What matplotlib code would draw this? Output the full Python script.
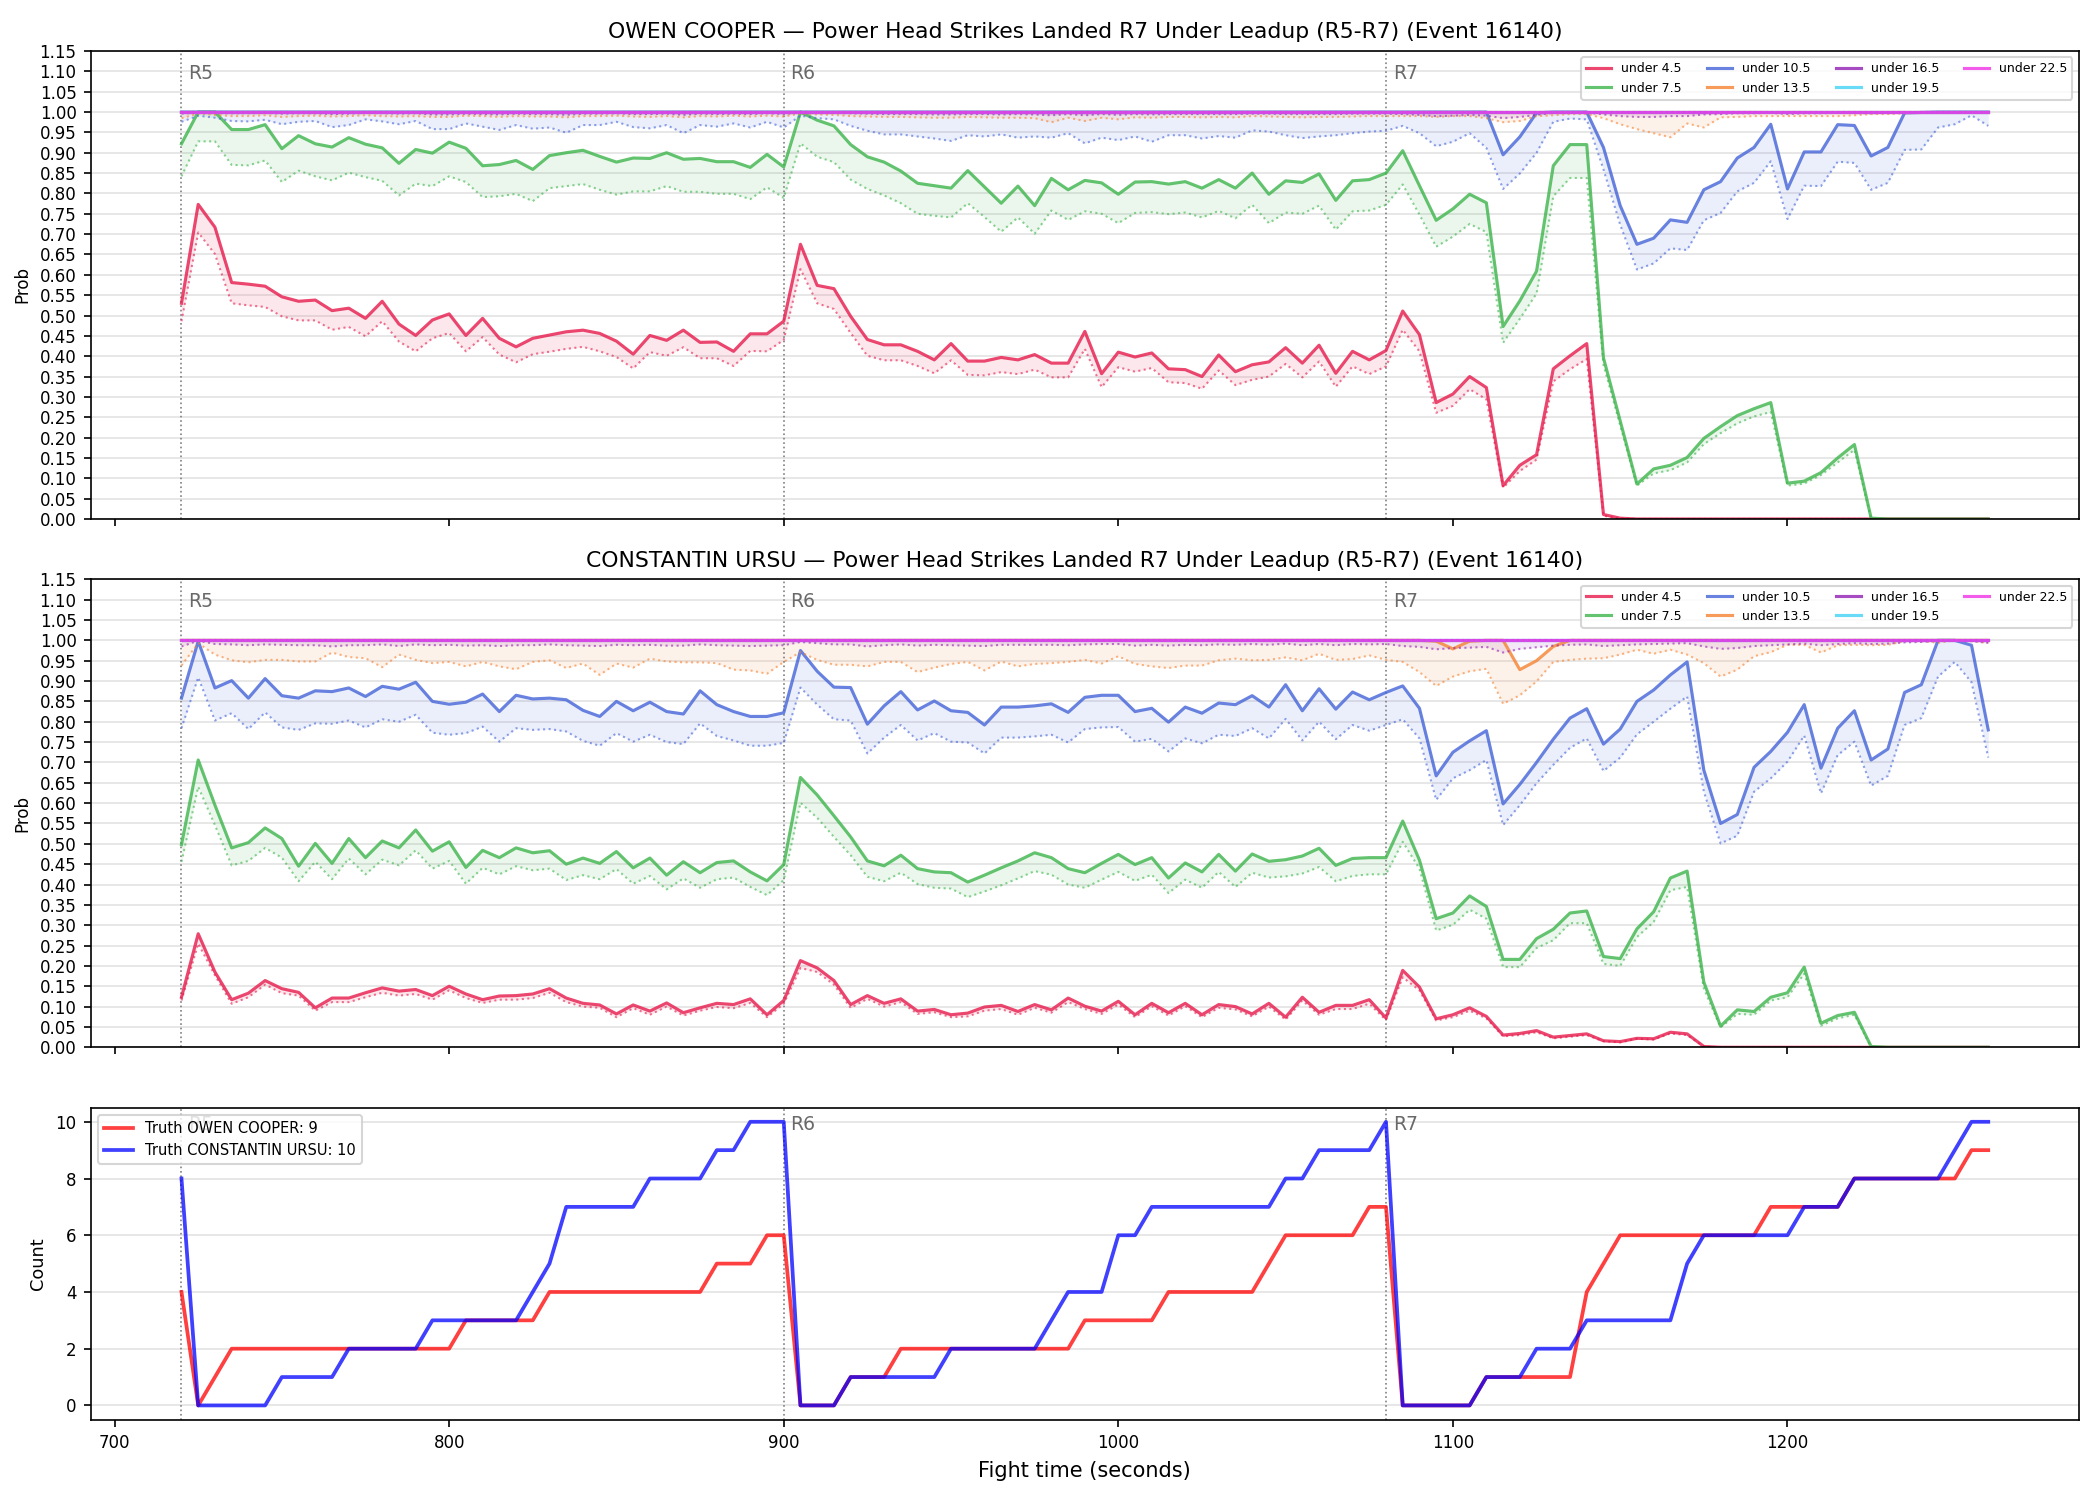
import numpy as np
import matplotlib.pyplot as plt

# fight time, one sample every 5 s over rounds 5-7
t = np.arange(720, 1261, 5)
round_starts = [720, 900, 1080]
round_names = ["R5", "R6", "R7"]

lines = ["under 4.5", "under 7.5", "under 10.5", "under 13.5",
         "under 16.5", "under 19.5", "under 22.5"]
colors = ["#e6194b", "#3cb44b", "#4363d8", "#f58231",
          "#911eb4", "#42d4f4", "#f032e6"]

ones = [1.0] * 109  # lines sitting on 1.00 for the whole window

# ---- OWEN COOPER (solid = model, dotted = lower band) ----
o_u45 = [0.530, 0.773, 0.717, 0.581, 0.577, 0.572, 0.546, 0.535, 0.538, 0.512, 0.518, 0.493, 0.535, 0.479, 0.451, 0.489, 0.504, 0.451, 0.493, 0.444, 0.423, 0.444, 0.452, 0.460, 0.464, 0.456, 0.437, 0.405, 0.451, 0.439, 0.464, 0.434, 0.435, 0.412, 0.455, 0.455, 0.486,
         0.675, 0.574, 0.566, 0.498, 0.441, 0.428, 0.428, 0.412, 0.391, 0.431, 0.388, 0.388, 0.397, 0.391, 0.404, 0.383, 0.383, 0.461, 0.357, 0.410, 0.398, 0.408, 0.369, 0.367, 0.350, 0.403, 0.362, 0.379, 0.386, 0.421, 0.383, 0.427, 0.358, 0.412, 0.391, 0.414,
         0.511, 0.453, 0.286, 0.307, 0.350, 0.323, 0.082, 0.132, 0.158, 0.369, 0.401, 0.431, 0.011, 0.002] + [0.0] * 22
o_u45_lo = [0.486, 0.704, 0.651, 0.530, 0.525, 0.521, 0.498, 0.488, 0.488, 0.465, 0.472, 0.449, 0.486, 0.436, 0.412, 0.444, 0.457, 0.412, 0.447, 0.404, 0.385, 0.405, 0.411, 0.418, 0.423, 0.412, 0.398, 0.370, 0.410, 0.401, 0.422, 0.395, 0.395, 0.376, 0.413, 0.412, 0.440,
            0.614, 0.530, 0.516, 0.457, 0.401, 0.390, 0.390, 0.376, 0.358, 0.390, 0.354, 0.353, 0.361, 0.356, 0.367, 0.348, 0.348, 0.418, 0.324, 0.373, 0.362, 0.371, 0.336, 0.334, 0.320, 0.365, 0.329, 0.342, 0.350, 0.381, 0.348, 0.387, 0.325, 0.375, 0.356, 0.375,
            0.465, 0.412, 0.261, 0.278, 0.319, 0.294, 0.077, 0.118, 0.146, 0.338, 0.368, 0.393, 0.008, 0.001] + [0.0] * 22
o_u75 = [0.922, 1.0, 1.0, 0.957, 0.957, 0.969, 0.910, 0.942, 0.922, 0.914, 0.937, 0.921, 0.912, 0.874, 0.908, 0.899, 0.926, 0.911, 0.868, 0.871, 0.881, 0.859, 0.893, 0.900, 0.906, 0.891, 0.877, 0.887, 0.886, 0.900, 0.884, 0.886, 0.878, 0.878, 0.864, 0.896, 0.865,
         1.0, 0.980, 0.966, 0.920, 0.890, 0.877, 0.855, 0.825, 0.819, 0.813, 0.856, 0.816, 0.776, 0.818, 0.770, 0.837, 0.809, 0.832, 0.826, 0.798, 0.828, 0.829, 0.823, 0.829, 0.813, 0.834, 0.813, 0.850, 0.798, 0.831, 0.827, 0.848, 0.783, 0.831, 0.834, 0.850,
         0.905, 0.819, 0.734, 0.762, 0.798, 0.777, 0.473, 0.536, 0.609, 0.868, 0.920, 0.920, 0.396, 0.241, 0.086, 0.123, 0.132, 0.151, 0.198, 0.227, 0.254, 0.271, 0.286, 0.088, 0.093, 0.114, 0.150, 0.183, 0.002] + [0.0] * 7
o_u75_lo = [0.842, 0.928, 0.928, 0.870, 0.869, 0.881, 0.828, 0.856, 0.842, 0.832, 0.851, 0.840, 0.831, 0.795, 0.824, 0.818, 0.842, 0.828, 0.791, 0.793, 0.799, 0.781, 0.813, 0.818, 0.823, 0.809, 0.797, 0.805, 0.805, 0.818, 0.804, 0.804, 0.799, 0.799, 0.786, 0.815, 0.789,
            0.923, 0.890, 0.877, 0.834, 0.811, 0.795, 0.776, 0.750, 0.745, 0.741, 0.776, 0.742, 0.706, 0.741, 0.701, 0.758, 0.735, 0.756, 0.750, 0.727, 0.752, 0.754, 0.749, 0.753, 0.741, 0.757, 0.739, 0.772, 0.727, 0.753, 0.750, 0.770, 0.711, 0.756, 0.758, 0.772,
            0.822, 0.748, 0.669, 0.694, 0.725, 0.705, 0.433, 0.492, 0.554, 0.793, 0.838, 0.838, 0.379, 0.230, 0.082, 0.112, 0.120, 0.139, 0.184, 0.211, 0.235, 0.252, 0.263, 0.082, 0.087, 0.108, 0.139, 0.170, 0.0] + [0.0] * 7
o_u105 = [1.0] * 79 + [0.895, 0.939, 0.998, 1.0, 1.0, 1.0, 0.913, 0.770, 0.675, 0.690, 0.735, 0.729, 0.809, 0.829, 0.887, 0.913, 0.970, 0.811, 0.902, 0.902, 0.969, 0.967, 0.892, 0.913, 0.998, 0.999, 1.0, 1.0, 1.0, 1.0]
o_u105_lo = [0.976, 0.991, 0.986, 0.978, 0.977, 0.981, 0.970, 0.976, 0.978, 0.963, 0.968, 0.982, 0.977, 0.970, 0.978, 0.958, 0.958, 0.972, 0.964, 0.956, 0.968, 0.959, 0.962, 0.949, 0.968, 0.968, 0.976, 0.963, 0.960, 0.968, 0.948, 0.968, 0.964, 0.972, 0.962, 0.976, 0.962,
             0.991, 0.985, 0.982, 0.966, 0.954, 0.945, 0.945, 0.940, 0.935, 0.929, 0.943, 0.940, 0.945, 0.937, 0.940, 0.937, 0.948, 0.923, 0.937, 0.931, 0.940, 0.927, 0.943, 0.943, 0.935, 0.941, 0.937, 0.955, 0.952, 0.943, 0.936, 0.940, 0.943, 0.948, 0.952, 0.954,
             0.966, 0.948, 0.916, 0.927, 0.948, 0.912, 0.811, 0.849, 0.900, 0.976, 0.984, 0.982, 0.859, 0.723, 0.613, 0.628, 0.665, 0.661, 0.734, 0.752, 0.805, 0.826, 0.879, 0.737, 0.819, 0.818, 0.878, 0.875, 0.809, 0.826, 0.907, 0.908, 0.962, 0.970, 0.992, 0.966]
o_u135_lo = [0.985, 0.996, 0.993, 0.990, 0.990, 0.992, 0.988, 0.990, 0.991, 0.989, 0.990, 0.992, 0.990, 0.989, 0.990, 0.988, 0.988, 0.991, 0.990, 0.988, 0.990, 0.989, 0.989, 0.987, 0.990, 0.990, 0.991, 0.989, 0.988, 0.990, 0.987, 0.990, 0.989, 0.991, 0.989, 0.991, 0.989,
             0.996, 0.994, 0.993, 0.990, 0.989, 0.988, 0.988, 0.987, 0.986, 0.986, 0.988, 0.987, 0.986, 0.986, 0.985, 0.975, 0.986, 0.978, 0.986, 0.982, 0.987, 0.986, 0.988, 0.988, 0.987, 0.988, 0.987, 0.990, 0.989, 0.988, 0.987, 0.988, 0.988, 0.989, 0.990, 0.990,
             0.990, 0.990, 0.988, 0.990, 0.990, 0.985, 0.975, 0.978, 0.990, 0.992, 0.995, 0.995, 0.985, 0.970, 0.958, 0.948, 0.938, 0.972, 0.962, 0.987, 0.988, 0.990, 0.990, 0.990, 0.990, 0.990, 0.990, 0.992, 0.995, 0.995, 0.997, 0.998, 0.999, 0.999, 1.0, 1.0]
o_u165_lo = [0.996, 0.999, 0.998, 0.997, 0.997, 0.998, 0.996, 0.997, 0.997, 0.995, 0.996, 0.998, 0.997, 0.996, 0.997, 0.994, 0.994, 0.996, 0.995, 0.994, 0.996, 0.995, 0.995, 0.993, 0.996, 0.996, 0.997, 0.995, 0.995, 0.996, 0.993, 0.996, 0.995, 0.996, 0.995, 0.997, 0.995,
             0.999, 0.998, 0.998, 0.997, 0.996, 0.995, 0.995, 0.995, 0.994, 0.994, 0.995, 0.995, 0.994, 0.995, 0.994, 0.992, 0.995, 0.992, 0.995, 0.993, 0.995, 0.994, 0.995, 0.995, 0.995, 0.995, 0.995, 0.996, 0.996, 0.995, 0.995, 0.995, 0.995, 0.996, 0.996, 0.996,
             0.995, 0.993, 0.990, 0.991, 0.993, 0.991, 0.985, 0.988, 0.993, 0.998, 0.999, 0.999, 0.994, 0.990, 0.988, 0.988, 0.990, 0.990, 0.994, 0.995, 0.997, 0.997, 0.998, 0.995, 0.997, 0.997, 0.998, 0.998, 0.997, 0.998, 0.999, 0.999, 1.0, 1.0, 1.0, 1.0]

# ---- CONSTANTIN URSU ----
c_u45 = [0.123, 0.279, 0.185, 0.117, 0.133, 0.164, 0.144, 0.135, 0.097, 0.121, 0.121, 0.134, 0.146, 0.138, 0.142, 0.127, 0.150, 0.131, 0.117, 0.126, 0.127, 0.131, 0.144, 0.121, 0.108, 0.104, 0.082, 0.104, 0.089, 0.109, 0.085, 0.097, 0.108, 0.105, 0.119, 0.080, 0.115,
         0.213, 0.195, 0.164, 0.105, 0.127, 0.108, 0.119, 0.089, 0.093, 0.080, 0.084, 0.099, 0.103, 0.088, 0.105, 0.092, 0.121, 0.101, 0.089, 0.113, 0.080, 0.108, 0.085, 0.108, 0.080, 0.105, 0.100, 0.082, 0.108, 0.074, 0.123, 0.086, 0.103, 0.103, 0.117, 0.072,
         0.189, 0.148, 0.070, 0.080, 0.097, 0.076, 0.030, 0.034, 0.041, 0.025, 0.029, 0.033, 0.016, 0.014, 0.022, 0.021, 0.037, 0.033, 0.002] + [0.0] * 17
c_u45_lo = [0.115, 0.255, 0.177, 0.107, 0.123, 0.154, 0.133, 0.127, 0.090, 0.111, 0.111, 0.123, 0.134, 0.127, 0.131, 0.117, 0.140, 0.121, 0.109, 0.117, 0.117, 0.121, 0.134, 0.111, 0.100, 0.097, 0.074, 0.096, 0.080, 0.100, 0.078, 0.090, 0.099, 0.096, 0.109, 0.074, 0.107,
            0.195, 0.185, 0.154, 0.097, 0.119, 0.100, 0.111, 0.082, 0.086, 0.074, 0.076, 0.090, 0.094, 0.080, 0.097, 0.085, 0.111, 0.094, 0.082, 0.105, 0.074, 0.101, 0.078, 0.101, 0.074, 0.097, 0.093, 0.076, 0.100, 0.068, 0.115, 0.080, 0.094, 0.094, 0.107, 0.067,
            0.172, 0.140, 0.066, 0.074, 0.090, 0.071, 0.027, 0.030, 0.037, 0.022, 0.026, 0.030, 0.015, 0.012, 0.021, 0.019, 0.034, 0.030, 0.002] + [0.0] * 17
c_u75 = [0.498, 0.706, 0.595, 0.490, 0.503, 0.539, 0.513, 0.445, 0.501, 0.452, 0.513, 0.466, 0.507, 0.490, 0.534, 0.482, 0.505, 0.442, 0.484, 0.466, 0.490, 0.478, 0.483, 0.450, 0.465, 0.452, 0.481, 0.441, 0.465, 0.423, 0.456, 0.429, 0.454, 0.458, 0.431, 0.409, 0.449,
         0.663, 0.620, 0.569, 0.517, 0.458, 0.446, 0.472, 0.439, 0.431, 0.429, 0.406, 0.423, 0.441, 0.458, 0.478, 0.466, 0.439, 0.429, 0.452, 0.474, 0.449, 0.466, 0.416, 0.453, 0.431, 0.474, 0.433, 0.475, 0.457, 0.461, 0.470, 0.489, 0.447, 0.464, 0.466, 0.466,
         0.556, 0.460, 0.316, 0.330, 0.372, 0.346, 0.216, 0.216, 0.267, 0.290, 0.330, 0.335, 0.223, 0.218, 0.291, 0.333, 0.416, 0.433, 0.160, 0.052, 0.092, 0.088, 0.123, 0.134, 0.197, 0.059, 0.078, 0.086, 0.002] + [0.0] * 7
c_u75_lo = [0.456, 0.640, 0.546, 0.447, 0.458, 0.490, 0.466, 0.408, 0.456, 0.413, 0.464, 0.425, 0.461, 0.447, 0.484, 0.439, 0.458, 0.402, 0.441, 0.425, 0.445, 0.435, 0.439, 0.411, 0.423, 0.413, 0.438, 0.402, 0.421, 0.388, 0.415, 0.392, 0.413, 0.417, 0.394, 0.374, 0.411,
            0.601, 0.564, 0.517, 0.472, 0.419, 0.408, 0.429, 0.401, 0.392, 0.390, 0.369, 0.383, 0.398, 0.415, 0.433, 0.424, 0.400, 0.392, 0.412, 0.431, 0.409, 0.424, 0.379, 0.412, 0.392, 0.431, 0.394, 0.429, 0.417, 0.420, 0.427, 0.443, 0.408, 0.421, 0.425, 0.425,
            0.505, 0.439, 0.287, 0.301, 0.338, 0.316, 0.197, 0.197, 0.244, 0.263, 0.305, 0.305, 0.205, 0.200, 0.271, 0.308, 0.386, 0.394, 0.144, 0.049, 0.082, 0.080, 0.115, 0.123, 0.181, 0.053, 0.071, 0.080, 0.0] + [0.0] * 7
c_u105 = [0.858, 0.998, 0.883, 0.901, 0.858, 0.906, 0.864, 0.858, 0.876, 0.874, 0.883, 0.862, 0.887, 0.880, 0.897, 0.850, 0.843, 0.848, 0.868, 0.825, 0.865, 0.856, 0.858, 0.854, 0.828, 0.813, 0.850, 0.827, 0.848, 0.825, 0.819, 0.876, 0.842, 0.825, 0.813, 0.813, 0.822,
          0.975, 0.924, 0.885, 0.884, 0.794, 0.839, 0.874, 0.829, 0.851, 0.827, 0.823, 0.792, 0.836, 0.836, 0.839, 0.844, 0.823, 0.860, 0.865, 0.865, 0.825, 0.833, 0.799, 0.836, 0.821, 0.846, 0.842, 0.864, 0.836, 0.891, 0.827, 0.881, 0.831, 0.873, 0.854, 0.872,
          0.888, 0.833, 0.667, 0.725, 0.753, 0.778, 0.598, 0.646, 0.700, 0.757, 0.809, 0.832, 0.745, 0.782, 0.850, 0.878, 0.915, 0.947, 0.681, 0.550, 0.572, 0.688, 0.727, 0.774, 0.842, 0.686, 0.784, 0.827, 0.706, 0.733, 0.872, 0.891, 1.0, 1.0, 0.988, 0.780]
c_u105_lo = [0.784, 0.909, 0.803, 0.821, 0.782, 0.823, 0.786, 0.780, 0.796, 0.795, 0.803, 0.786, 0.806, 0.800, 0.817, 0.773, 0.768, 0.772, 0.788, 0.751, 0.784, 0.780, 0.782, 0.776, 0.753, 0.741, 0.772, 0.751, 0.768, 0.750, 0.745, 0.796, 0.765, 0.754, 0.741, 0.741, 0.748,
             0.884, 0.842, 0.806, 0.803, 0.722, 0.761, 0.792, 0.754, 0.772, 0.751, 0.749, 0.722, 0.761, 0.761, 0.764, 0.768, 0.749, 0.782, 0.786, 0.787, 0.751, 0.758, 0.727, 0.759, 0.747, 0.768, 0.765, 0.784, 0.759, 0.807, 0.754, 0.800, 0.757, 0.792, 0.778, 0.792,
             0.806, 0.759, 0.608, 0.661, 0.681, 0.706, 0.546, 0.595, 0.649, 0.694, 0.736, 0.759, 0.679, 0.712, 0.769, 0.800, 0.832, 0.862, 0.628, 0.501, 0.520, 0.628, 0.661, 0.702, 0.766, 0.624, 0.718, 0.751, 0.643, 0.667, 0.792, 0.809, 0.911, 0.947, 0.897, 0.712]
c_u135 = [1.0] * 75 + [0.998, 0.979, 0.998, 1.0, 1.0, 0.928, 0.950, 0.985] + [1.0] * 26
c_u135_lo = [0.938, 0.993, 0.965, 0.951, 0.946, 0.952, 0.952, 0.948, 0.948, 0.970, 0.959, 0.956, 0.934, 0.965, 0.952, 0.944, 0.947, 0.936, 0.947, 0.936, 0.929, 0.947, 0.951, 0.932, 0.943, 0.915, 0.943, 0.933, 0.955, 0.948, 0.946, 0.946, 0.944, 0.928, 0.926, 0.918, 0.947,
             0.971, 0.952, 0.940, 0.940, 0.936, 0.947, 0.947, 0.922, 0.933, 0.942, 0.947, 0.926, 0.948, 0.936, 0.942, 0.944, 0.947, 0.952, 0.943, 0.961, 0.942, 0.936, 0.932, 0.938, 0.938, 0.951, 0.955, 0.951, 0.952, 0.958, 0.951, 0.967, 0.952, 0.954, 0.963, 0.952,
             0.947, 0.922, 0.888, 0.911, 0.924, 0.930, 0.844, 0.865, 0.899, 0.947, 0.952, 0.955, 0.956, 0.965, 0.977, 0.967, 0.977, 0.965, 0.944, 0.911, 0.928, 0.961, 0.971, 0.989, 0.989, 0.970, 0.988, 0.989, 0.988, 0.989, 0.998, 0.998, 0.994, 1.0, 0.998, 0.994]
c_u165_lo = [0.985, 0.999, 0.991, 0.990, 0.988, 0.990, 0.989, 0.988, 0.988, 0.985, 0.988, 0.988, 0.990, 0.986, 0.990, 0.988, 0.989, 0.987, 0.988, 0.986, 0.988, 0.988, 0.990, 0.988, 0.987, 0.986, 0.989, 0.988, 0.989, 0.987, 0.987, 0.990, 0.988, 0.987, 0.986, 0.987, 0.988,
             0.996, 0.993, 0.990, 0.990, 0.985, 0.988, 0.990, 0.987, 0.989, 0.988, 0.987, 0.986, 0.989, 0.989, 0.989, 0.989, 0.988, 0.990, 0.991, 0.991, 0.987, 0.989, 0.987, 0.989, 0.988, 0.990, 0.989, 0.991, 0.989, 0.992, 0.988, 0.991, 0.988, 0.991, 0.990, 0.991,
             0.986, 0.984, 0.978, 0.981, 0.982, 0.984, 0.970, 0.979, 0.983, 0.987, 0.989, 0.990, 0.986, 0.988, 0.990, 0.991, 0.992, 0.993, 0.985, 0.979, 0.981, 0.986, 0.988, 0.990, 0.992, 0.988, 0.991, 0.993, 0.991, 0.992, 0.995, 0.996, 0.999, 0.999, 0.998, 0.994]

# ---- running truth counts ----
owen_truth = [4, 0, 1, 2, 2, 2, 2, 2, 2, 2, 2, 2, 2, 2, 2, 2, 2, 3, 3, 3, 3, 3, 4, 4, 4, 4, 4, 4, 4, 4, 4, 4, 5, 5, 5, 6, 6,
              0, 0, 0, 1, 1, 1, 2, 2, 2, 2, 2, 2, 2, 2, 2, 2, 2, 3, 3, 3, 3, 3, 4, 4, 4, 4, 4, 4, 5, 6, 6, 6, 6, 6, 7, 7,
              0, 0, 0, 0, 0, 1, 1, 1, 1, 1, 1, 4, 5, 6, 6, 6, 6, 6, 6, 6, 6, 6, 7, 7, 7, 7, 7, 8, 8, 8, 8, 8, 8, 8, 9, 9]
ursu_truth = [8, 0, 0, 0, 0, 0, 1, 1, 1, 1, 2, 2, 2, 2, 2, 3, 3, 3, 3, 3, 3, 4, 5, 7, 7, 7, 7, 7, 8, 8, 8, 8, 9, 9, 10, 10, 10,
              0, 0, 0, 1, 1, 1, 1, 1, 1, 2, 2, 2, 2, 2, 2, 3, 4, 4, 4, 6, 6, 7, 7, 7, 7, 7, 7, 7, 7, 8, 8, 9, 9, 9, 9, 10,
              0, 0, 0, 0, 0, 1, 1, 1, 2, 2, 2, 3, 3, 3, 3, 3, 3, 5, 6, 6, 6, 6, 6, 6, 7, 7, 7, 8, 8, 8, 8, 8, 8, 9, 10, 10]

owen_main = [o_u45, o_u75, o_u105, ones, ones, ones, ones]
owen_low = [o_u45_lo, o_u75_lo, o_u105_lo, o_u135_lo, o_u165_lo, ones, ones]
ursu_main = [c_u45, c_u75, c_u105, c_u135, ones, ones, ones]
ursu_low = [c_u45_lo, c_u75_lo, c_u105_lo, c_u135_lo, c_u165_lo, ones, ones]


def mark_rounds(ax, y):
    for x0, name in zip(round_starts, round_names):
        ax.axvline(x0, color="gray", ls=":", lw=0.8, zorder=1)
        ax.text(x0 + 2, y, name, color="dimgray", fontsize=9, va="center", ha="left")


def prob_panel(ax, mains, lows, title):
    for lab, c, m, lo in zip(lines, colors, mains, lows):
        ax.fill_between(t, lo, m, color=c, alpha=0.1, lw=0)
        ax.plot(t, lo, color=c, ls=":", lw=1.0, alpha=0.6)
        ax.plot(t, m, color=c, lw=1.5, alpha=0.8, label=lab)
    ax.set_ylim(0, 1.15)
    ax.set_yticks(np.arange(0, 1.151, 0.05))
    ax.yaxis.set_major_formatter("{x:.2f}")
    ax.grid(axis="y", color="#e3e3e3", lw=0.8)
    ax.set_axisbelow(True)
    ax.set_ylabel("Prob", fontsize=8)
    ax.tick_params(labelsize=8)
    ax.set_title(title, fontsize=10.5)
    mark_rounds(ax, 1.095)
    ax.legend(loc="upper right", ncol=4, fontsize=6)


fig, axes = plt.subplots(3, 1, figsize=(14, 10), dpi=150, sharex=True,
                         gridspec_kw={"height_ratios": [3, 3, 2]})
fig.subplots_adjust(left=0.0434, right=0.9898, top=0.966, bottom=0.0536, hspace=0.145)

prob_panel(axes[0], owen_main, owen_low,
           "OWEN COOPER \u2014 Power Head Strikes Landed R7 Under Leadup (R5-R7) (Event 16140)")
prob_panel(axes[1], ursu_main, ursu_low,
           "CONSTANTIN URSU \u2014 Power Head Strikes Landed R7 Under Leadup (R5-R7) (Event 16140)")

ax = axes[2]
ax.plot(t, owen_truth, color="red", lw=1.8, alpha=0.75, label="Truth OWEN COOPER: 9")
ax.plot(t, ursu_truth, color="blue", lw=1.8, alpha=0.75, label="Truth CONSTANTIN URSU: 10")
ax.grid(axis="y", color="#e3e3e3", lw=0.8)
ax.set_axisbelow(True)
ax.set_ylabel("Count", fontsize=8.5)
ax.set_xlabel("Fight time (seconds)", fontsize=10)
ax.tick_params(labelsize=8)
mark_rounds(ax, 9.9)
ax.legend(loc="upper left", fontsize=7)

fig.savefig("out.png")
